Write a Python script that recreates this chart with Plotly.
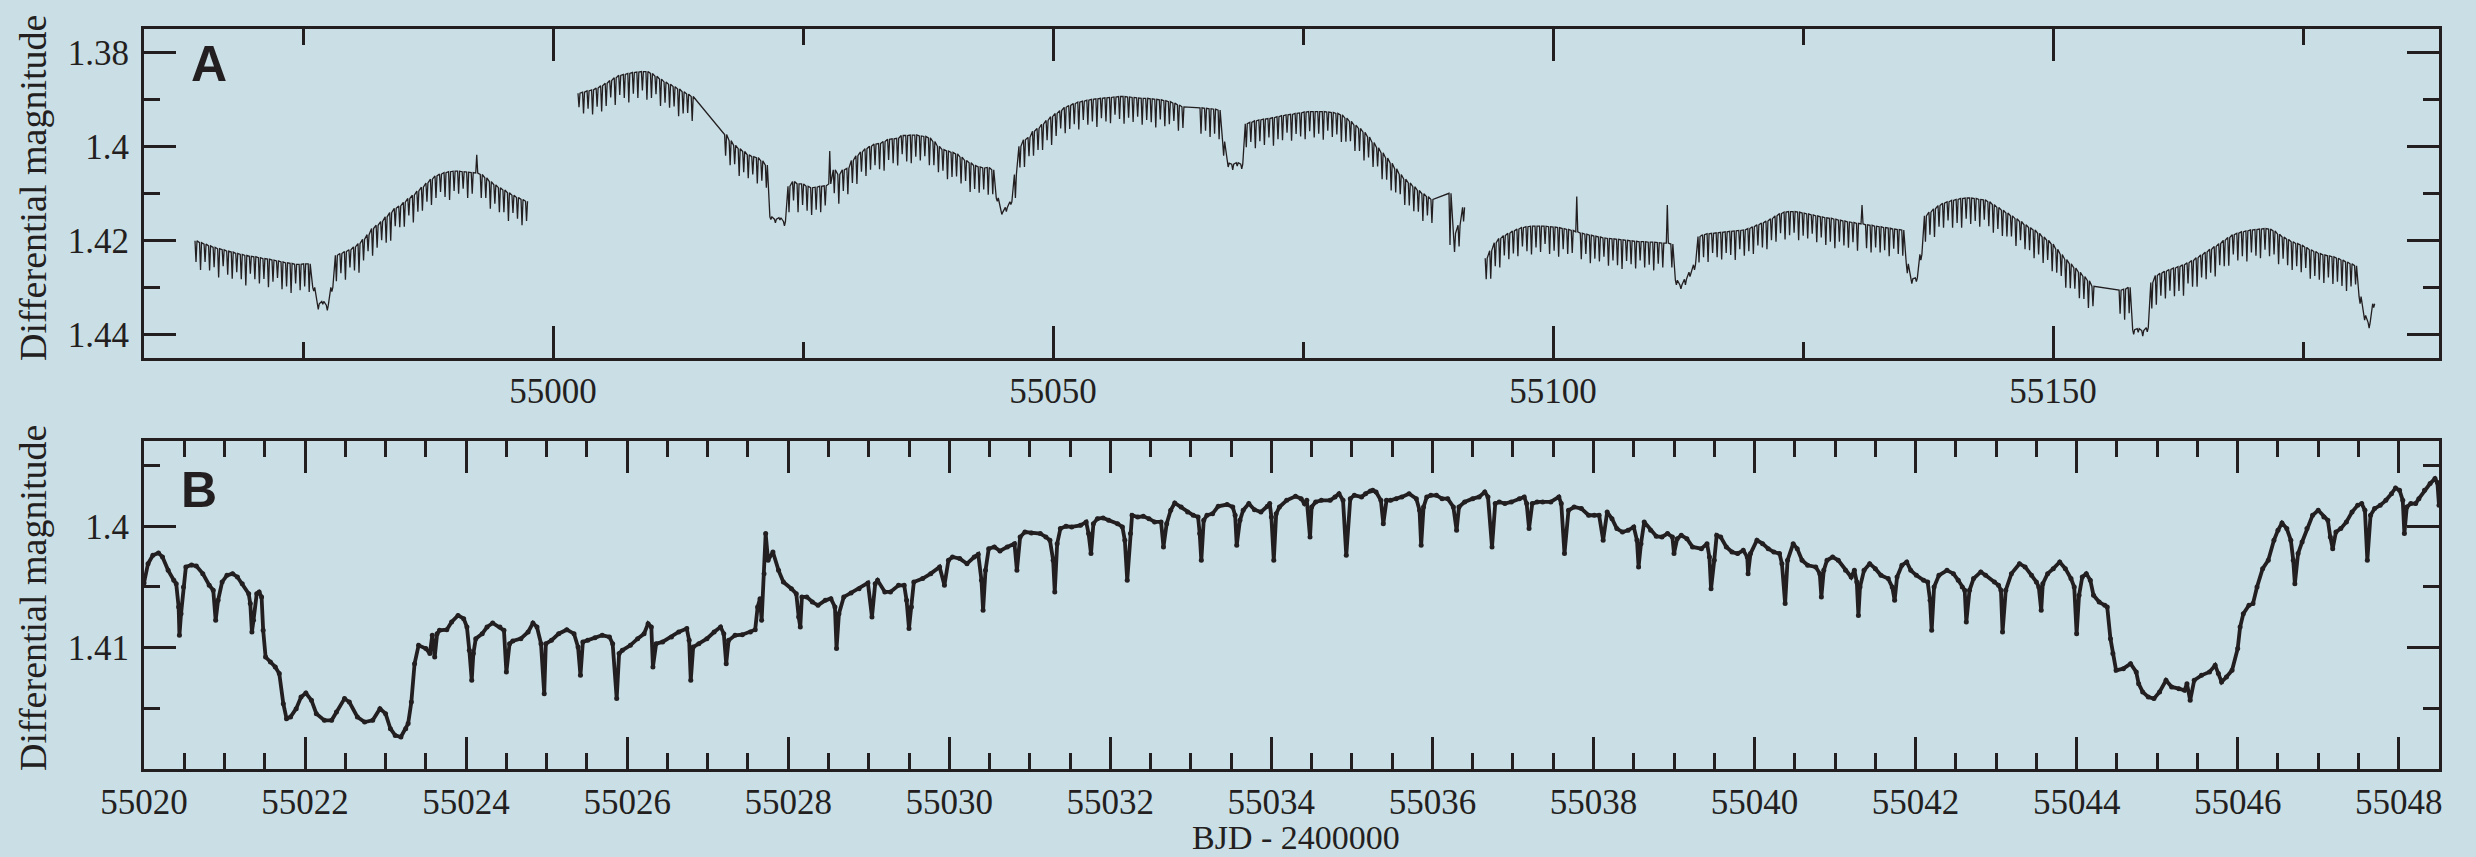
import plotly.graph_objects as go

INK = "#231f20"
BG = "#cadee6"

# ---------------- Panel A ----------------
# spacing (days) between the narrow eclipse spikes of the comb
A_SPIKE_STEP = 0.4528

# Each sub-segment: time of first spike, envelope (top) magnitudes per spike,
# spike depth per spike in units of 1e-4 mag (negative = upward outlier)
A1_T0 = 54964.30
A1_TOP = [1.4201, 1.4205, 1.4208, 1.4212, 1.4215, 1.4218, 1.4220, 1.4223, 1.4225, 1.4228,
          1.4230, 1.4232, 1.4234, 1.4235, 1.4237, 1.4239, 1.4240, 1.4242, 1.4244, 1.4246,
          1.4248, 1.4249, 1.4251, 1.4251, 1.4250, 1.4250, 1.4300, 1.4335, 1.4330, 1.4338,
          1.4300, 1.4232, 1.4228, 1.4224, 1.4220, 1.4214, 1.4207, 1.4198, 1.4188, 1.4175,
          1.4168, 1.4160, 1.4150, 1.4141, 1.4132, 1.4127, 1.4119, 1.4111, 1.4104, 1.4095,
          1.4087, 1.4078, 1.4070, 1.4063, 1.4059, 1.4056, 1.4054, 1.4053, 1.4053, 1.4054,
          1.4055, 1.4056, 1.4057, 1.4060, 1.4067, 1.4075, 1.4082, 1.4088, 1.4093, 1.4099,
          1.4104, 1.4109, 1.4113, 1.4117]
A1_DEPTH = [45, 58, 38, 52, 42, 61, 35, 50, 57, 40, 53, 64, 37, 48, 55, 43, 60, 46, 36, 58,
            50, 63, 41, 55, 48, 60, 8, 12, 6, 11, 9,
            55, 42, 60, 38, 50, 62, 45, 35, 58, 48, 40, 55, 60, 38, 45, 52, 36, 58, 44, 50,
            40, 55, 47, 38, 52, 60, 42, 48, 36, 55, 45, -39, 50, 43, 58, 40, 52, 47, 60, 38,
            45, 55, 42]

A2A_T0 = 55002.60
A2A_TOP = [1.3887, 1.3885, 1.3882, 1.3880, 1.3876, 1.3871, 1.3866, 1.3860, 1.3854, 1.3849,
           1.3847, 1.3845, 1.3843, 1.3842, 1.3841, 1.3841, 1.3845, 1.3851, 1.3857, 1.3863,
           1.3868, 1.3873, 1.3878, 1.3884, 1.3889, 1.3894]
A2A_DEPTH = [30, 45, 38, 52, 40, 55, 48, 36, 58, 42, 50, 62, 45, 55, 40, 60, 52, 38, 57, 44,
             50, 42, 58, 46, 40, 52]

A2B_T0 = 55017.26
A2B_TOP = [1.3975, 1.3988, 1.3998, 1.4005, 1.4011, 1.4018, 1.4022, 1.4024, 1.4031, 1.4040,
           1.4150, 1.4155, 1.4152, 1.4160,
           1.4085, 1.4075, 1.4080, 1.4080, 1.4085, 1.4088, 1.4087, 1.4085, 1.4084, 1.4080,
           1.4050, 1.4060, 1.4050, 1.4047, 1.4030, 1.4020, 1.4012, 1.4005, 1.4000, 1.3995,
           1.3994, 1.3990, 1.3985, 1.3984, 1.3983, 1.3977, 1.3977, 1.3976, 1.3976, 1.3978,
           1.3979, 1.3982, 1.3990, 1.4000, 1.4007, 1.4010, 1.4013, 1.4016, 1.4023, 1.4030,
           1.4035, 1.4041, 1.4044, 1.4046, 1.4045, 1.4050,
           1.4110, 1.4140, 1.4130, 1.4118,
           1.4060, 1.4000, 1.3986, 1.3981, 1.3968, 1.3962, 1.3953, 1.3945, 1.3937, 1.3930,
           1.3924, 1.3917, 1.3913, 1.3909, 1.3906, 1.3904, 1.3902, 1.3900, 1.3899, 1.3898,
           1.3897, 1.3896, 1.3895, 1.3894, 1.3894, 1.3895, 1.3896, 1.3897, 1.3898, 1.3898,
           1.3899, 1.3900, 1.3901, 1.3903, 1.3905, 1.3908, 1.3912, 1.3916]
A2B_DEPTH = [45, 52, 40, 58, 44, 50, 38, 55, 42, 48,
             6, 8, 5, 9,
             55, 40, 60, 45, 52, 58, 48, 55, 42, -70,
             50, 62, 45, 55, 48, 60, 42, 58, 50, 45, 55, 62, 44, 52, 58, 40, 55, 60, 46, 52,
             42, 58, 50, 55, 45, 60, 52, 48, 56, 44, 62, 50, 55, 46, 58, 52,
             7, 5, 9, 6,
             50, 45, 58, 40, 52, 46, 55, 42, 60, 48, 38, 55, 50, 44, 58, 40, 52, 47, 60, 42,
             50, 55, 38, 48, 58, 44, 52, 40, 56, 46, 50, 60, 42, 54, 48, 38, 55, 45]

A2C_T0 = 55064.80
A2C_TOP = [1.3918, 1.3919, 1.3920, 1.3921, 1.3923, 1.3990, 1.4036, 1.4038, 1.4035, 1.4038,
           1.3952, 1.3949, 1.3946, 1.3944, 1.3942, 1.3941, 1.3939, 1.3937, 1.3935, 1.3933,
           1.3932, 1.3930, 1.3929, 1.3927, 1.3926, 1.3926, 1.3926, 1.3926, 1.3927, 1.3928,
           1.3930, 1.3933, 1.3940, 1.3947, 1.3955, 1.3962, 1.3970, 1.3980, 1.3992, 1.4003,
           1.4014, 1.4025, 1.4036, 1.4048, 1.4060, 1.4070, 1.4078, 1.4086, 1.4094, 1.4101,
           1.4107, 1.4113]
A2C_DEPTH = [55, 48, 60, 52, 62, 30, 8, 12, 7, 10,
             50, 42, 58, 45, 55, 40, 60, 48, 52, 38, 56, 44, 50, 58, 42, 55, 47, 60, 40, 52,
             45, 58, 50, 42, 55, 48, 60, 44, 52, 40, 56, 46, 58, 50, 42, 55, 48, 52, 45, 58,
             40, 50]

A2D_T0 = 55089.70
A2D_TOP = [1.4100, 1.4185, 1.4168, 1.4130]
A2D_DEPTH = [110, 40, 45, 30]

A3A_T0 = 55093.32
A3A_TOP = [1.4238, 1.4222, 1.4205, 1.4196, 1.4190, 1.4185, 1.4180, 1.4176, 1.4173, 1.4171,
           1.4170, 1.4170, 1.4170, 1.4170, 1.4171, 1.4172, 1.4173, 1.4175, 1.4177, 1.4179,
           1.4182, 1.4185, 1.4187, 1.4189, 1.4191, 1.4193, 1.4195, 1.4196, 1.4197, 1.4198,
           1.4199, 1.4200, 1.4201, 1.4202, 1.4203, 1.4203, 1.4204, 1.4204, 1.4205, 1.4206,
           1.4206, 1.4208, 1.4285, 1.4295, 1.4283, 1.4268, 1.4252, 1.4192, 1.4188, 1.4186,
           1.4185, 1.4184, 1.4183, 1.4182, 1.4181, 1.4180, 1.4179, 1.4178, 1.4175, 1.4171,
           1.4167, 1.4163, 1.4159, 1.4154, 1.4148, 1.4143, 1.4140, 1.4139, 1.4139, 1.4140,
           1.4142, 1.4144, 1.4146, 1.4148, 1.4150, 1.4152, 1.4153, 1.4155, 1.4157, 1.4159,
           1.4161, 1.4162, 1.4164, 1.4165, 1.4167, 1.4168, 1.4170, 1.4171, 1.4173, 1.4174,
           1.4176, 1.4177, 1.4178, 1.4250, 1.4282, 1.4280, 1.4230, 1.4148, 1.4140, 1.4133,
           1.4126, 1.4121, 1.4118, 1.4115, 1.4113, 1.4111, 1.4110, 1.4110, 1.4111, 1.4113,
           1.4114, 1.4118, 1.4124, 1.4130, 1.4136, 1.4142, 1.4148, 1.4154, 1.4160, 1.4167,
           1.4173, 1.4178, 1.4185, 1.4193, 1.4200, 1.4208, 1.4219, 1.4230, 1.4241, 1.4250,
           1.4259, 1.4268, 1.4277, 1.4286, 1.4298]
A3A_DEPTH = [45, 60, 50, 62, 42, 55, 48, 58, 40, 52, 60, 45, 55, 38, 58, 50, 62, 44, 52, 48,
             -75,
             55, 42, 60, 48, 52, 40, 58, 46, 55, 62, 44, 50, 58, 40, 55, 48, 60, 45, 52,
             -81, 50,
             10, 8, 12, 9, 11,
             55, 48, 60, 42, 52, 58, 45, 50, 62, 40, 55, 48, 58, 44, 52, 60, 46, 55, 42, 58,
             50, 45, 60, 48, 52, 40, 56, 44, 58, 50, 62, 46, 52, 55, 42, 58,
             -40,
             50, 58, 45, 55, 48, 60, 42, 52, 55,
             20, 10, 8, 12,
             55, 48, 60, 45, 52, 40, 58, 50, 62, 44, 55, 48, 58, 42, 52, 60, 46, 55, 50, 44,
             58, 40, 52, 48, 60, 45, 55, 42, 58, 50, 46, 60, 52, 44, 55, 48, 58, 42]

A3B_T0 = 55156.71
A3B_TOP = [1.4306, 1.4304, 1.4300, 1.4390, 1.4388, 1.4392, 1.4386, 1.4290, 1.4275, 1.4270,
           1.4266, 1.4262, 1.4259, 1.4256, 1.4252, 1.4248, 1.4243, 1.4237, 1.4231, 1.4225,
           1.4219, 1.4213, 1.4207, 1.4200, 1.4194, 1.4188, 1.4185, 1.4182, 1.4180, 1.4178,
           1.4177, 1.4176, 1.4175, 1.4176, 1.4180, 1.4187, 1.4193, 1.4198, 1.4203, 1.4207,
           1.4210, 1.4215, 1.4220, 1.4224, 1.4228, 1.4231, 1.4233, 1.4235, 1.4238, 1.4242,
           1.4246, 1.4250, 1.4254, 1.4320, 1.4360, 1.4375, 1.4335]
A3B_DEPTH = [50, 65, 55, 10, 8, 12, 9,
             55, 62, 48, 58, 45, 60, 52, 66, 44, 56, 62, 48, 58, 50, 64, 46, 55, 60, 42, 58,
             52, 65, 48, 56, 62, 45, 58, 50, 64, 46, 55, 60, 48, 58, 44, 62, 52, 56, 60, 46,
             58, 50, 55, 62, 48, 40,
             15, 10, 12, 8]

# separate runs (a break in the line between runs)
A_RUNS = [
    [(A1_T0, A1_TOP, A1_DEPTH)],
    [(A2A_T0, A2A_TOP, A2A_DEPTH), (A2B_T0, A2B_TOP, A2B_DEPTH),
     (A2C_T0, A2C_TOP, A2C_DEPTH), (A2D_T0, A2D_TOP, A2D_DEPTH)],
    [(A3A_T0, A3A_TOP, A3A_DEPTH), (A3B_T0, A3B_TOP, A3B_DEPTH)],
]

# ---------------- Panel B ----------------
B_T = [55020.00, 55020.05, 55020.11, 55020.18, 55020.23, 55020.30, 55020.37, 55020.40, 55020.43, 55020.44,
       55020.46, 55020.49, 55020.52, 55020.59, 55020.65, 55020.73, 55020.81, 55020.86, 55020.89, 55020.92,
       55020.97, 55021.03, 55021.10, 55021.16, 55021.22, 55021.30, 55021.32, 55021.34, 55021.36, 55021.40,
       55021.43, 55021.46, 55021.48, 55021.51, 55021.57, 55021.63, 55021.68, 55021.73, 55021.77, 55021.82,
       55021.89, 55021.95, 55022.01, 55022.08, 55022.14, 55022.24, 55022.33, 55022.39, 55022.49, 55022.55,
       55022.65, 55022.74, 55022.84, 55022.93, 55023.00, 55023.06, 55023.12, 55023.19, 55023.25, 55023.28,
       55023.32, 55023.36, 55023.41, 55023.50, 55023.55, 55023.58, 55023.61, 55023.64, 55023.67, 55023.76,
       55023.82, 55023.90, 55023.97, 55024.01, 55024.04, 55024.07, 55024.09, 55024.12, 55024.20, 55024.26,
       55024.33, 55024.42, 55024.47, 55024.50, 55024.54, 55024.58, 55024.68, 55024.77, 55024.83, 55024.88,
       55024.93, 55024.97, 55024.99, 55025.06, 55025.15, 55025.25, 55025.34, 55025.39, 55025.42, 55025.45,
       55025.51, 55025.60, 55025.69, 55025.78, 55025.82, 55025.87, 55025.90, 55025.94, 55026.04, 55026.13,
       55026.21, 55026.26, 55026.30, 55026.32, 55026.36, 55026.44, 55026.55, 55026.64, 55026.74, 55026.77,
       55026.79, 55026.82, 55026.89, 55026.99, 55027.08, 55027.16, 55027.20, 55027.23, 55027.26, 55027.34,
       55027.43, 55027.53, 55027.59, 55027.62, 55027.65, 55027.67, 55027.70, 55027.72, 55027.75, 55027.81,
       55027.88, 55027.94,
       55028.04, 55028.10, 55028.13, 55028.15, 55028.17, 55028.23, 55028.30, 55028.37, 55028.46, 55028.53,
       55028.58, 55028.60, 55028.63, 55028.69, 55028.78, 55028.88, 55028.99, 55029.04, 55029.08, 55029.11,
       55029.20, 55029.27, 55029.37, 55029.44, 55029.47, 55029.50, 55029.53, 55029.56, 55029.67, 55029.77,
       55029.88, 55029.94, 55029.99, 55030.04, 55030.13, 55030.22, 55030.31, 55030.36, 55030.40, 55030.42,
       55030.45, 55030.49, 55030.56, 55030.63, 55030.72, 55030.81, 55030.84, 55030.88, 55030.94, 55031.02,
       55031.13, 55031.20, 55031.25, 55031.29, 55031.31, 55031.34, 55031.38, 55031.45, 55031.52, 55031.63,
       55031.70, 55031.73, 55031.76, 55031.79, 55031.84, 55031.91, 55031.98, 55032.09, 55032.15, 55032.18,
       55032.21, 55032.25, 55032.27, 55032.34, 55032.41, 55032.48, 55032.55, 55032.63, 55032.66, 55032.70,
       55032.75, 55032.80, 55032.88, 55032.96, 55033.03, 55033.09, 55033.11, 55033.13, 55033.16, 55033.20,
       55033.27, 55033.34, 55033.45, 55033.52, 55033.55, 55033.57, 55033.61, 55033.65, 55033.72, 55033.79,
       55033.87, 55033.95, 55033.98, 55034.00, 55034.03, 55034.06, 55034.10, 55034.19, 55034.30, 55034.37,
       55034.41, 55034.44, 55034.48, 55034.50, 55034.55, 55034.62, 55034.73, 55034.79, 55034.84, 55034.89,
       55034.93, 55034.98, 55035.03, 55035.12, 55035.17, 55035.23, 55035.26, 55035.30, 55035.36, 55035.39,
       55035.43, 55035.48, 55035.55, 55035.62, 55035.71, 55035.80, 55035.84, 55035.86, 55035.89, 55035.93,
       55035.98, 55036.05, 55036.12, 55036.19, 55036.26, 55036.30, 55036.33, 55036.40, 55036.50, 55036.58,
       55036.65, 55036.69, 55036.74, 55036.78, 55036.83, 55036.90, 55036.98, 55037.08, 55037.14, 55037.17,
       55037.20, 55037.24, 55037.30, 55037.37, 55037.47, 55037.57, 55037.60, 55037.64, 55037.69, 55037.76,
       55037.85, 55037.94, 55038.01, 55038.07, 55038.12,
       55038.17, 55038.23, 55038.29, 55038.36, 55038.43, 55038.50, 55038.54, 55038.56, 55038.59, 55038.63,
       55038.71, 55038.78, 55038.85, 55038.92, 55038.98, 55039.00, 55039.04, 55039.09, 55039.16, 55039.23,
       55039.34, 55039.41, 55039.44, 55039.46, 55039.50, 55039.53, 55039.58, 55039.65, 55039.72, 55039.79,
       55039.86, 55039.91, 55039.92, 55039.95, 55040.03, 55040.10, 55040.17, 55040.24, 55040.31, 55040.34,
       55040.38, 55040.41, 55040.48, 55040.53, 55040.59, 55040.66, 55040.76, 55040.81, 55040.83, 55040.86,
       55040.90, 55040.97, 55041.04, 55041.13, 55041.20, 55041.24, 55041.27, 55041.29, 55041.31, 55041.36,
       55041.43, 55041.50, 55041.57, 55041.66, 55041.71, 55041.74, 55041.77, 55041.83, 55041.89, 55041.94,
       55042.01, 55042.10, 55042.15, 55042.18, 55042.20, 55042.23, 55042.29, 55042.39, 55042.47, 55042.53,
       55042.58, 55042.61, 55042.63, 55042.67, 55042.72, 55042.81, 55042.87, 55042.98, 55043.03, 55043.06,
       55043.08, 55043.12, 55043.19, 55043.29, 55043.36, 55043.44, 55043.50, 55043.53, 55043.56, 55043.58,
       55043.64, 55043.71, 55043.79, 55043.86, 55043.93, 55043.97, 55044.00, 55044.03, 55044.07, 55044.12,
       55044.17, 55044.21, 55044.28, 55044.35, 55044.38, 55044.42, 55044.45, 55044.49, 55044.58, 55044.67,
       55044.74, 55044.77, 55044.82, 55044.89, 55044.96, 55045.03, 55045.11, 55045.18, 55045.27, 55045.34,
       55045.37, 55045.41, 55045.46, 55045.55, 55045.65, 55045.72, 55045.76, 55045.80, 55045.86, 55045.93,
       55046.00, 55046.03, 55046.07, 55046.14, 55046.19, 55046.24, 55046.31, 55046.38, 55046.45, 55046.50,
       55046.55, 55046.61, 55046.66, 55046.69, 55046.71, 55046.75, 55046.80, 55046.86, 55046.93, 55047.00,
       55047.07, 55047.12, 55047.15, 55047.18, 55047.22, 55047.28, 55047.35, 55047.42, 55047.49, 55047.54,
       55047.58, 55047.61, 55047.65, 55047.70, 55047.77, 55047.84, 55047.91, 55047.96, 55048.01, 55048.05,
       55048.07, 55048.10, 55048.15, 55048.21, 55048.25, 55048.32, 55048.39, 55048.45, 55048.48, 55048.50]
B_M = [1.40467, 1.40308, 1.40239, 1.40220, 1.40253, 1.40363, 1.40445, 1.40473, 1.40665, 1.40898,
       1.40720, 1.40500, 1.40335, 1.40319, 1.40327, 1.40390, 1.40486, 1.40527, 1.40775, 1.40610,
       1.40459, 1.40404, 1.40390, 1.40418, 1.40473, 1.40555, 1.40637, 1.40871, 1.40775, 1.40555,
       1.40541, 1.40582, 1.40857, 1.41077, 1.41118, 1.41159, 1.41214, 1.41462, 1.41585, 1.41571,
       1.41503, 1.41407, 1.41374, 1.41434, 1.41544, 1.41599, 1.41599, 1.41530, 1.41420, 1.41448,
       1.41571, 1.41613, 1.41599, 1.41503, 1.41544, 1.41668, 1.41723, 1.41736, 1.41668, 1.41626,
       1.41448, 1.41132, 1.40981, 1.41008, 1.41049, 1.40898, 1.41077, 1.40885, 1.40857, 1.40852,
       1.40788, 1.40734, 1.40761, 1.40830, 1.41022, 1.41269, 1.41049, 1.40926, 1.40885, 1.40830,
       1.40797, 1.40830, 1.40857, 1.41201, 1.40967, 1.40945, 1.40926, 1.40871, 1.40797, 1.40830,
       1.40967, 1.41379, 1.40967, 1.40940, 1.40885, 1.40852, 1.40885, 1.40995, 1.41228, 1.40953,
       1.40940, 1.40918, 1.40898, 1.40912, 1.40967, 1.41420, 1.41049, 1.41022, 1.40981, 1.40926,
       1.40885, 1.40802, 1.40830, 1.41159, 1.40967, 1.40953, 1.40912, 1.40871, 1.40843, 1.40940,
       1.41269, 1.40995, 1.40967, 1.40926, 1.40871, 1.40830, 1.40885, 1.41132, 1.40940, 1.40898,
       1.40893, 1.40871, 1.40852, 1.40665, 1.40596, 1.40775, 1.40390, 1.40060, 1.40280, 1.40212,
       1.40363, 1.40459,
       1.40514, 1.40555, 1.40747, 1.40830, 1.40582, 1.40582, 1.40624, 1.40651, 1.40610, 1.40596,
       1.40665, 1.41008, 1.40720, 1.40582, 1.40549, 1.40514, 1.40467, 1.40747, 1.40473, 1.40445,
       1.40541, 1.40541, 1.40486, 1.40486, 1.40610, 1.40843, 1.40665, 1.40459, 1.40431, 1.40390,
       1.40335, 1.40486, 1.40280, 1.40253, 1.40266, 1.40308, 1.40253, 1.40231, 1.40445, 1.40692,
       1.40363, 1.40184, 1.40170, 1.40203, 1.40170, 1.40143, 1.40363, 1.40088, 1.40047, 1.40055,
       1.40060, 1.40088, 1.40115, 1.40280, 1.40541, 1.40143, 1.40019, 1.40000, 1.40005, 1.39992,
       1.39964, 1.40060, 1.40225, 1.39978, 1.39937, 1.39931, 1.39951, 1.39978, 1.40005, 1.40115,
       1.40445, 1.40060, 1.39909, 1.39923, 1.39918, 1.39937, 1.39964, 1.39964, 1.40170, 1.39978,
       1.39868, 1.39808, 1.39841, 1.39882, 1.39909, 1.39923, 1.40060, 1.40280, 1.39951, 1.39909,
       1.39896, 1.39835, 1.39821, 1.39841, 1.39909, 1.40157, 1.39951, 1.39868, 1.39813, 1.39863,
       1.39882, 1.39835, 1.39813, 1.39923, 1.40280, 1.39896, 1.39841, 1.39786, 1.39753, 1.39772,
       1.39813, 1.39786, 1.40088, 1.39841, 1.39799, 1.39786, 1.39786, 1.39758, 1.39731, 1.39786,
       1.40239, 1.39772, 1.39745, 1.39758, 1.39731, 1.39709, 1.39703, 1.39717, 1.39786, 1.39978,
       1.39786, 1.39786, 1.39772, 1.39758, 1.39731, 1.39772, 1.39868, 1.40157, 1.39841, 1.39758,
       1.39745, 1.39745, 1.39772, 1.39772, 1.39841, 1.40033, 1.39841, 1.39799, 1.39772, 1.39758,
       1.39717, 1.39758, 1.40170, 1.39813, 1.39799, 1.39813, 1.39799, 1.39772, 1.39758, 1.39813,
       1.40019, 1.39813, 1.39799, 1.39799, 1.39799, 1.39758, 1.39813, 1.40225, 1.39868, 1.39841,
       1.39854, 1.39909, 1.39909, 1.39909, 1.40115,
       1.39882, 1.39937, 1.40019, 1.40047, 1.40033, 1.40005, 1.40115, 1.40335, 1.40143, 1.39964,
       1.40033, 1.40082, 1.40088, 1.40060, 1.40088, 1.40225, 1.40102, 1.40074, 1.40102, 1.40170,
       1.40184, 1.40143, 1.40253, 1.40514, 1.40280, 1.40074, 1.40088, 1.40170, 1.40212, 1.40225,
       1.40198, 1.40253, 1.40390, 1.40225, 1.40115, 1.40143, 1.40184, 1.40212, 1.40225, 1.40308,
       1.40637, 1.40280, 1.40143, 1.40184, 1.40280, 1.40321, 1.40335, 1.40390, 1.40582, 1.40363,
       1.40280, 1.40253, 1.40280, 1.40363, 1.40418, 1.40363, 1.40459, 1.40734, 1.40500, 1.40363,
       1.40308, 1.40349, 1.40404, 1.40431, 1.40500, 1.40610, 1.40418, 1.40321, 1.40294, 1.40363,
       1.40404, 1.40445, 1.40459, 1.40610, 1.40857, 1.40500, 1.40404, 1.40363, 1.40390, 1.40445,
       1.40500, 1.40527, 1.40788, 1.40527, 1.40431, 1.40376, 1.40404, 1.40459, 1.40486, 1.40527,
       1.40871, 1.40527, 1.40390, 1.40308, 1.40335, 1.40404, 1.40459, 1.40500, 1.40692, 1.40473,
       1.40390, 1.40349, 1.40294, 1.40349, 1.40431, 1.40500, 1.40885, 1.40569, 1.40418, 1.40390,
       1.40445, 1.40569, 1.40624, 1.40651, 1.40665, 1.40926, 1.41049, 1.41187, 1.41173, 1.41132,
       1.41201, 1.41297, 1.41365, 1.41407, 1.41420, 1.41365, 1.41269, 1.41324, 1.41338, 1.41352,
       1.41297, 1.41434, 1.41269, 1.41228, 1.41201, 1.41146, 1.41214, 1.41283, 1.41242, 1.41187,
       1.41008, 1.40830, 1.40720, 1.40651, 1.40637, 1.40500, 1.40349, 1.40280, 1.40115, 1.40033,
       1.39973, 1.40019, 1.40115, 1.40280, 1.40473, 1.40225, 1.40129, 1.40019, 1.39909, 1.39868,
       1.39923, 1.39951, 1.40088, 1.40184, 1.40047, 1.40019, 1.39964, 1.39882, 1.39827, 1.39813,
       1.39868, 1.40280, 1.39909, 1.39854, 1.39827, 1.39786, 1.39731, 1.39684, 1.39703, 1.39786,
       1.40060, 1.39841, 1.39813, 1.39813, 1.39772, 1.39703, 1.39648, 1.39607, 1.39640, 1.39827]

# ---------------- Axis tick values ----------------
A_X_MAJOR = [55000, 55050, 55100, 55150]
A_X_MINOR = [54975, 55025, 55075, 55125, 55175]
A_Y_MAJOR = [1.38, 1.40, 1.42, 1.44]
A_Y_TEXT = ["1.38", "1.4", "1.42", "1.44"]
A_Y_MINOR = [1.39, 1.41, 1.43]
B_Y_MAJOR = [1.40, 1.41]
B_Y_TEXT = ["1.4", "1.41"]
B_Y_MINOR = [1.395, 1.405, 1.415]


def comb_line(runs, step):
    xs, ys = [], []
    for r, run in enumerate(runs):
        if r:
            xs.append(None)
            ys.append(None)
        for t0, tops, depths in run:
            for i, (top, d) in enumerate(zip(tops, depths)):
                c = t0 + i * step
                xs += [c - 0.1, c, c + 0.1]
                ys += [top, top + d * 1e-4, top]
    return xs, ys


ax, ay = comb_line(A_RUNS, A_SPIKE_STEP)

fig = go.Figure()
fig.add_trace(go.Scatter(x=ax, y=ay, mode="lines", line=dict(color=INK, width=1.3),
                         xaxis="x", yaxis="y", showlegend=False, hoverinfo="skip"))
fig.add_trace(go.Scatter(x=B_T, y=B_M, mode="lines+markers",
                         line=dict(color=INK, width=3.8), marker=dict(color=INK, size=5),
                         xaxis="x2", yaxis="y2", showlegend=False, hoverinfo="skip"))

W, H = 2476, 857
L, R = 144, 2439
A_TOP, A_BOT = 29, 358
B_TOP, B_BOT = 441, 769


def px_x(v):
    return v / W


def px_y(v):
    return (H - v) / H


tickfont = dict(family="Liberation Serif, Times New Roman, serif", size=35, color=INK)
common = dict(showline=True, linewidth=3, linecolor=INK, mirror="ticks", ticks="inside",
              tickwidth=2.5, tickcolor=INK, ticklen=32, showgrid=False, zeroline=False,
              tickfont=tickfont, automargin=False)
minor = dict(ticks="inside", ticklen=16, tickwidth=2.5, tickcolor=INK, showgrid=False)

fig.update_layout(
    width=W, height=H,
    margin=dict(l=0, r=0, t=0, b=0, autoexpand=False),
    paper_bgcolor=BG, plot_bgcolor=BG,
    xaxis=dict(domain=[px_x(L), px_x(R)], anchor="y", range=[54959.1, 55188.6],
               tickmode="array", tickvals=A_X_MAJOR, tickformat="d",
               minor=dict(tickmode="array", tickvals=A_X_MINOR, **minor), **common),
    yaxis=dict(domain=[px_y(A_BOT), px_y(A_TOP)], anchor="x", range=[1.44504, 1.37504],
               tickmode="array", tickvals=A_Y_MAJOR, ticktext=A_Y_TEXT, ticklabelstandoff=5,
               minor=dict(tickmode="array", tickvals=A_Y_MINOR, **minor), **common),
    xaxis2=dict(domain=[px_x(L), px_x(R)], anchor="y2", range=[55020, 55048.5],
                tick0=55020, dtick=2, tickformat="d",
                minor=dict(dtick=0.5, **minor), **common),
    yaxis2=dict(domain=[px_y(B_BOT), px_y(B_TOP)], anchor="x2", range=[1.4200, 1.39297],
                tickmode="array", tickvals=B_Y_MAJOR, ticktext=B_Y_TEXT, ticklabelstandoff=5,
                minor=dict(tickmode="array", tickvals=B_Y_MINOR, **minor), **common),
)

serif = dict(family="Liberation Serif, Times New Roman, serif", size=38, color=INK)
bold = dict(family="Liberation Sans, Arial, sans-serif", size=50, color=INK)
ann = [
    dict(text="Differential magnitude", x=px_x(33), y=px_y(188), textangle=-90,
         yanchor="middle", font=serif),
    dict(text="Differential magnitude", x=px_x(33), y=px_y(598), textangle=-90,
         yanchor="middle", font=serif),
    dict(text="BJD - 2400000", x=px_x(1296), y=0.0, yanchor="bottom", borderpad=0,
         font=dict(family="Liberation Serif, Times New Roman, serif", size=34, color=INK)),
    dict(text="<b>A</b>", x=px_x(209), y=px_y(64), yanchor="middle", font=bold),
    dict(text="<b>B</b>", x=px_x(199), y=px_y(490), yanchor="middle", font=bold),
]
for a in ann:
    fig.add_annotation(xref="paper", yref="paper", showarrow=False, xanchor="center", **a)

fig.write_html("out.html")
